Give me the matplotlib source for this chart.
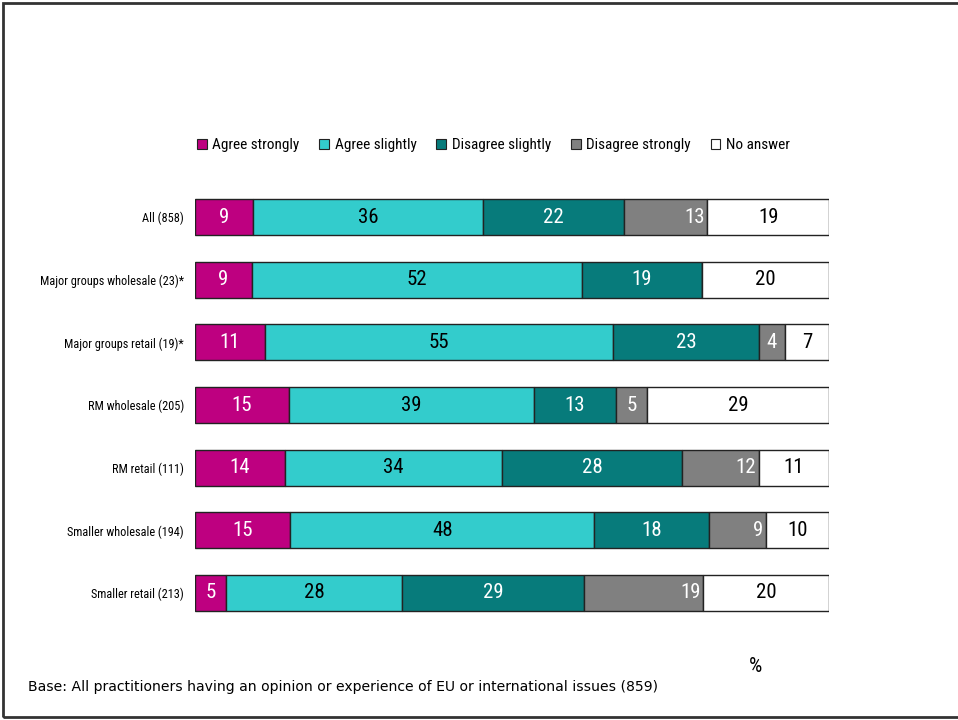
import matplotlib
matplotlib.use("Agg")
import matplotlib.pyplot as plt
from matplotlib import font_manager
from matplotlib.patches import Rectangle
import numpy as np

categories = [
    "All (858)",
    "Major groups wholesale (23)*",
    "Major groups retail (19)*",
    "RM wholesale (205)",
    "RM retail (111)",
    "Smaller wholesale (194)",
    "Smaller retail (213)",
]
series_names = ["Agree strongly", "Agree slightly", "Disagree slightly",
                "Disagree strongly", "No answer"]
agree_strongly = [9, 9, 11, 15, 14, 15, 5]
agree_slightly = [36, 52, 55, 39, 34, 48, 28]
disagree_slightly = [22, 19, 23, 13, 28, 18, 29]
disagree_strongly = [13, 0, 4, 5, 12, 9, 19]
no_answer = [19, 20, 7, 29, 11, 10, 20]

colors = ["#BE0080", "#33CCCC", "#077B7B", "#808080", "#FFFFFF"]
label_colors = ["white", "black", "white", "white", "black"]

available = {f.name for f in font_manager.fontManager.ttflist}
narrow = next((n for n in ["Liberation Sans Narrow", "DejaVu Sans Condensed",
                           "Roboto Condensed", "Open Sans Condensed"]
               if n in available), "DejaVu Sans")

fig = plt.figure(figsize=(9.58, 7.2), dpi=100)
ax = fig.add_axes([195 / 958, 1 - 624.3 / 720, 634 / 958, 438.6 / 720])

values = np.array([agree_strongly, agree_slightly, disagree_slightly,
                   disagree_strongly, no_answer], dtype=float)
totals = values.sum(axis=0)
shares = values / totals * 100

y = np.arange(len(categories))
left = np.zeros(len(categories))
for i, name in enumerate(series_names):
    ax.barh(y, shares[i], left=left, height=0.574, color=colors[i],
            edgecolor="#222222", linewidth=1.0, label=name)
    for j in range(len(categories)):
        v = values[i, j]
        if v > 0:
            if i == 3 and shares[i, j] > 7:
                ax.text(left[j] + shares[i, j] - 0.4, y[j], f"{int(v)}",
                        ha="right", va="center", color=label_colors[i],
                        fontsize=15, family=narrow)
            else:
                ax.text(left[j] + shares[i, j] / 2, y[j], f"{int(v)}",
                        ha="center", va="center", color=label_colors[i],
                        fontsize=15, family=narrow)
    left += shares[i]

ax.set_xlim(0, 100)
ax.set_ylim(len(categories) - 0.5, -0.5)
ax.set_yticks(y)
ax.set_yticklabels(categories, fontsize=8.8, family=narrow)
ax.tick_params(axis="y", length=0, pad=8)
ax.set_xticks([])
for s in ax.spines.values():
    s.set_visible(False)

leg = fig.legend(loc="center left", bbox_to_anchor=(197 / 958, 1 - 145 / 720),
                 ncol=5, frameon=False, handlelength=0.65, handleheight=0.65,
                 handletextpad=0.35, columnspacing=1.3, borderpad=0,
                 borderaxespad=0, prop={"family": narrow, "size": 11})
for h in leg.legend_handles:
    h.set_edgecolor("#222222")
    h.set_linewidth(0.8)

fig.text(28 / 958, 1 - 687 / 720,
         "Base: All practitioners having an opinion or experience of EU or international issues (859)",
         fontsize=10.1, family="DejaVu Sans", va="center", ha="left")
fig.text(756 / 958, 1 - 667 / 720, "%", fontsize=15, family=narrow,
         va="center", ha="center")

fig.patches.append(Rectangle((3 / 958, 3 / 720), 1.2, 714 / 720,
                             transform=fig.transFigure, fill=False,
                             edgecolor="#333333", linewidth=2))

fig.savefig("out.png", dpi=100)
